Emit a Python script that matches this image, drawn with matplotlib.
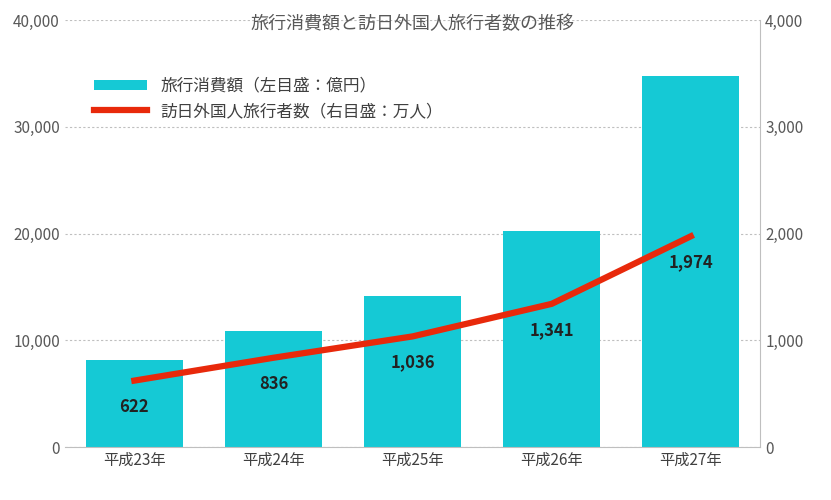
import matplotlib
matplotlib.use("Agg")
import matplotlib.pyplot as plt

plt.rcParams["font.family"] = "Noto Sans CJK JP"

categories = ["平成23年", "平成24年", "平成25年", "平成26年", "平成27年"]
spending = [8135, 10846, 14167, 20278, 34771]
visitors = [622, 836, 1036, 1341, 1974]
left_ticks = [0, 10000, 20000, 30000, 40000]
right_ticks = [0, 1000, 2000, 3000, 4000]

fig = plt.figure(figsize=(8.31, 5.0), dpi=100)
ax = fig.add_axes([0.078, 0.106, 0.837, 0.854])
x = range(len(categories))
bars = ax.bar(x, spending, width=0.7, color="#15C9D5", label="旅行消費額（左目盛：億円）", zorder=2)
ax.set_ylim(0, 40000)
ax.set_xlim(-0.5, 4.5)
ax.set_yticks(left_ticks)
ax.set_yticklabels([f"{v:,}" for v in left_ticks], color="#595959", fontsize=11)
ax.set_xticks(list(x))
ax.set_xticklabels(categories, color="#404040", fontsize=11)
ax.yaxis.grid(True, linestyle=(0, (2, 2)), color="#BFBFBF", linewidth=0.8, zorder=0)
for s in ["top", "right", "left"]:
    ax.spines[s].set_visible(False)
ax.spines["bottom"].set_color("#BFBFBF")
ax.tick_params(length=0)

ax2 = ax.twinx()
line, = ax2.plot(x, visitors, color="#E8290B", linewidth=4.5, label="訪日外国人旅行者数（右目盛：万人）", zorder=3)
ax2.set_ylim(0, 4000)
ax2.set_yticks(right_ticks)
ax2.set_yticklabels([f"{v:,}" for v in right_ticks], color="#595959", fontsize=11)
for s in ["top", "left", "bottom"]:
    ax2.spines[s].set_visible(False)
ax2.spines["right"].set_color("#BFBFBF")
ax2.tick_params(length=0)
for xi, v in zip(x, visitors):
    ax2.text(xi, v - 160, f"{v:,}", ha="center", va="top", fontsize=12, fontweight="bold", color="#222222")

ax.set_title("旅行消費額と訪日外国人旅行者数の推移", fontsize=13, color="#595959", y=0.96)
ax2.legend([bars, line], [bars.get_label(), line.get_label()], loc="upper left",
           bbox_to_anchor=(0.02, 0.9), frameon=False, fontsize=12, labelcolor="#404040",
           handlelength=3.2, handleheight=0.6)
fig.savefig("out.png", dpi=100)
